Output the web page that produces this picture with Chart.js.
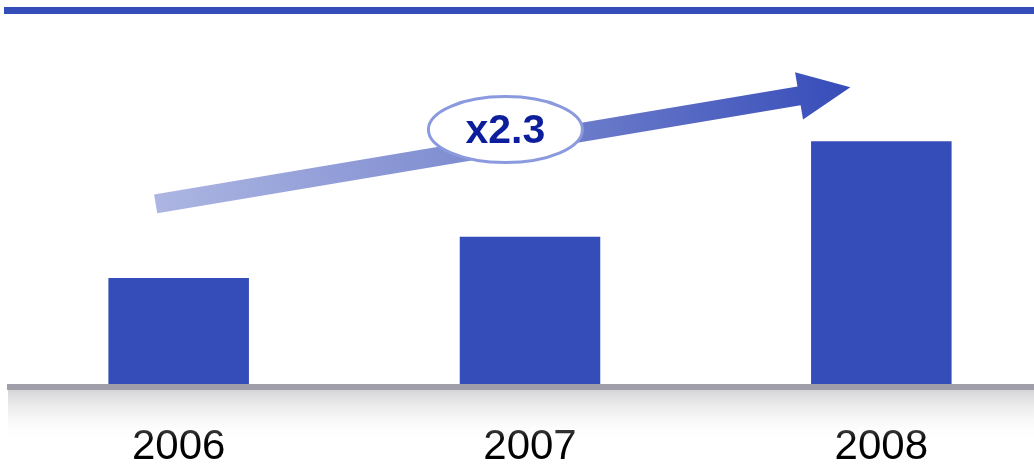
<!DOCTYPE html>
<html>
<head>
<meta charset="utf-8">
<script src="https://cdn.jsdelivr.net/npm/chart.js@4/dist/chart.umd.min.js"></script>
<style>
  body { margin: 0; background: #fff; overflow: hidden; }
  #growth { display: block; }
</style>
</head>
<body>
<canvas id="growth" width="1057" height="465"></canvas>
<script>
var years = ["2006", "2007", "2008"];
var revenue = [1.0, 1.39, 2.29];
var growthLabel = "x2.3";

var barColor = "#344db8";
var pageWidth = 1034; // visible width, the canvas runs a bit past it

/* decoration drawn around the bars: top rule, base line, arrow and badge */
var decorations = {
    id: "decorations",
    beforeDraw: function (chart) {
        var ctx = chart.ctx;
        ctx.save();
        ctx.fillStyle = barColor;
        ctx.fillRect(4, 7, pageWidth - 4, 7);
        ctx.restore();
    },
    afterDatasetsDraw: function (chart) {
        var ctx = chart.ctx;
        var x = chart.scales.x;
        var y = chart.scales.y;
        var base = y.getPixelForValue(0);

        ctx.save();
        // shadow under the base line
        var g = ctx.createLinearGradient(0, base + 6, 0, base + 58);
        g.addColorStop(0, "#d6d6d8");
        g.addColorStop(1, "rgba(255,255,255,0)");
        ctx.fillStyle = g;
        ctx.fillRect(8, base + 6, pageWidth - 8, 52);
        // base line
        ctx.fillStyle = "#a09fa9";
        ctx.fillRect(7, base, pageWidth - 7, 6);

        // growth arrow, from above 2006 to above 2008
        var x0 = x.getPixelForValue(0) - 23, y0 = y.getPixelForValue(1.70);
        var x1 = x.getPixelForValue(2) - 31, y1 = y.getPixelForValue(2.80);
        var ang = Math.atan2(y1 - y0, x1 - x0);
        var len = Math.hypot(x1 - x0, y1 - y0);
        ctx.translate(x0, y0);
        ctx.rotate(ang);
        var ag = ctx.createLinearGradient(0, 0, len, 0);
        ag.addColorStop(0, "#adb6e2");
        ag.addColorStop(0.55, "#7483cd");
        ag.addColorStop(1, "#364cb9");
        ctx.fillStyle = ag;
        ctx.beginPath();
        ctx.moveTo(0, -9.5);
        ctx.lineTo(len - 52, -9.5);
        ctx.lineTo(len - 52, -24);
        ctx.lineTo(len, 0);
        ctx.lineTo(len - 52, 24);
        ctx.lineTo(len - 52, 9.5);
        ctx.lineTo(0, 9.5);
        ctx.closePath();
        ctx.fill();
        ctx.setTransform(1, 0, 0, 1, 0, 0);

        // badge
        var cx = x.getPixelForValue(0) + 0.93 * (x.getPixelForValue(1) - x.getPixelForValue(0));
        var cy = y.getPixelForValue(2.40);
        ctx.beginPath();
        ctx.ellipse(cx, cy, 77, 33, 0, 0, Math.PI * 2);
        ctx.fillStyle = "#fff";
        ctx.fill();
        ctx.lineWidth = 3;
        ctx.strokeStyle = "#8b9ade";
        ctx.stroke();
        ctx.fillStyle = "#0c1e9b";
        ctx.font = "bold 41px 'Liberation Sans', Arial, sans-serif";
        ctx.textAlign = "center";
        ctx.textBaseline = "middle";
        ctx.fillText(growthLabel, cx, cy + 2);
        ctx.restore();
    }
};

var ctx = document.getElementById("growth");
var growthChart = new Chart(ctx, {
    type: "bar",
    data: {
        labels: years,
        datasets: [{
            data: revenue,
            backgroundColor: barColor,
            borderWidth: 0,
            barPercentage: 0.4,
            categoryPercentage: 1
        }]
    },
    options: {
        responsive: false,
        animation: false,
        layout: {
            padding: { left: 3, right: 0, top: 13, bottom: 0 }
        },
        plugins: {
            legend: { display: false },
            tooltip: { enabled: false }
        },
        scales: {
            x: {
                offset: true,
                grid: { display: false, drawTicks: false },
                border: { display: false },
                ticks: {
                    padding: 42,
                    color: "#000",
                    maxRotation: 0,
                    autoSkip: false,
                    font: { family: "'Liberation Sans', Arial, sans-serif", size: 42, lineHeight: 1 }
                },
                afterFit: function (scale) {
                    scale.height = 81;
                }
            },
            y: {
                display: false,
                min: 0,
                max: 3.5
            }
        }
    },
    plugins: [decorations]
});
</script>
</body>
</html>
